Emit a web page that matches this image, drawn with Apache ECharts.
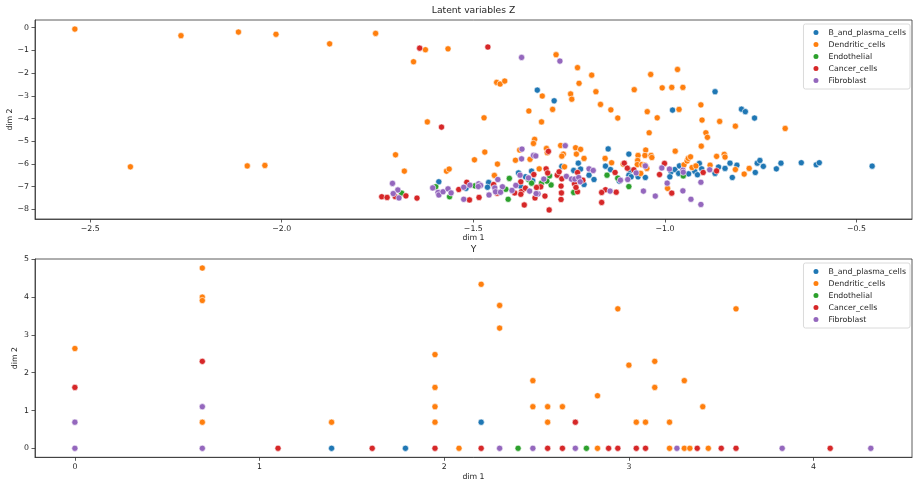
<!DOCTYPE html>
<html>
<head>
<meta charset="utf-8">
<script src="https://cdn.jsdelivr.net/npm/echarts@6/dist/echarts.min.js"></script>
<style>html,body{margin:0;padding:0;background:#fff}#c{width:913px;height:482px}</style>
</head>
<body>
<div id="c"></div>
<script>
const categories = ['B_and_plasma_cells','Dendritic_cells','Endothelial','Cancer_cells','Fibroblast'];
const colors = ['#1f77b4','#ff7f0e','#2ca02c','#d62728','#9467bd'];

const xTicksZ = [-2.5,-2.0,-1.5,-1.0,-0.5];
const yTicksZ = [-8,-7,-6,-5,-4,-3,-2,-1,0];
const xTicksY = [0,1,2,3,4];
const yTicksY = [0,1,2,3,4,5];

// Latent variables Z
const zB = [[-1.59,-6.79],[-1.519,-7.08],[-1.46,-6.82],[-1.463,-7.03],[-1.333,-2.75],[-1.289,-3.22],[-0.98,-3.63],[-0.869,-2.82],[-0.8,-3.59],[-0.79,-3.7],[-0.766,-3.98],[-1.226,-5.97],[-1.148,-5.34],[-1.155,-6.1],[-1.142,-6.25],[-1.185,-6.69],[-1.198,-6.5],[-1.269,-6.11],[-1.238,-6.29],[-1.22,-6.23],[-1.211,-6.91],[-1.345,-6.75],[-1.348,-6.32],[-1.382,-6.4],[-1.364,-6.57],[-1.377,-6.98],[-1.094,-5.57],[-1.09,-6.29],[-1.094,-6.5],[-1.088,-6.57],[-1.07,-6.57],[-1.051,-6.6],[-0.984,-6.35],[-0.987,-6.57],[-0.974,-6.25],[-0.962,-6.09],[-0.964,-6.42],[-0.938,-6.44],[-0.922,-6.33],[-0.915,-6.48],[-0.91,-5.98],[-0.904,-6.22],[-0.869,-6.42],[-0.86,-6.14],[-0.843,-6.2],[-0.83,-5.97],[-0.812,-6.06],[-0.824,-6.6],[-0.764,-6.38],[-0.759,-5.97],[-0.752,-5.85],[-0.743,-6.11],[-0.709,-6.22],[-0.697,-5.97],[-0.644,-5.95],[-0.605,-6.04],[-0.597,-5.95],[-0.459,-6.1],[-1.119,-6.76]];
const zDend = [[-2.54,-0.06],[-2.263,-0.35],[-2.113,-0.19],[-2.015,-0.29],[-1.875,-0.71],[-1.755,-0.25],[-1.625,-0.97],[-1.566,-0.93],[-1.656,-1.5],[-1.62,-4.15],[-2.395,-6.13],[-2.09,-6.09],[-2.044,-6.07],[-1.703,-5.6],[-1.68,-6.32],[-1.57,-6.32],[-1.563,-6.23],[-1.284,-1.19],[-1.228,-1.76],[-1.191,-2.09],[-1.224,-2.45],[-1.18,-2.82],[-1.439,-2.41],[-1.43,-2.48],[-1.418,-2.35],[-1.32,-3.01],[-1.246,-2.92],[-1.243,-3.15],[-1.293,-3.6],[-1.355,-3.67],[-1.322,-4.15],[-1.472,-3.97],[-1.168,-3.38],[-1.141,-3.62],[-1.123,-3.98],[-1.08,-2.73],[-1.037,-2.06],[-1.046,-3.7],[-1.02,-3.97],[-1.007,-2.65],[-0.982,-2.63],[-0.967,-1.84],[-0.953,-2.63],[-0.963,-3.6],[-0.906,-3.4],[-0.903,-4.07],[-0.857,-4.13],[-0.816,-4.34],[-0.686,-4.44],[-1.47,-5.48],[-1.497,-5.82],[-1.437,-6.01],[-1.445,-6.51],[-1.34,-4.92],[-1.343,-5.1],[-1.379,-5.39],[-1.39,-5.84],[-1.352,-5.8],[-1.328,-6.22],[-1.309,-5.32],[-1.307,-5.51],[-1.272,-5.19],[-1.265,-5.57],[-1.269,-5.66],[-1.233,-5.29],[-1.22,-5.36],[-1.231,-5.57],[-1.211,-5.76],[-1.156,-5.76],[-1.139,-5.95],[-1.109,-6.01],[-1.262,-6.13],[-1.041,-4.63],[-0.893,-4.63],[-0.889,-4.83],[-0.973,-5.44],[-0.905,-5.22],[-1.07,-5.63],[-1.071,-5.85],[-1.072,-6.03],[-1.05,-5.39],[-1.052,-5.63],[-1.036,-5.63],[-1.034,-5.72],[-1.047,-6.2],[-1.06,-6.03],[-1.053,-6.06],[-1.063,-6.42],[-0.95,-6.04],[-0.942,-5.87],[-0.939,-5.76],[-0.933,-5.69],[-0.929,-6.16],[-0.919,-6.09],[-0.993,-7.08],[-0.882,-6.06],[-0.865,-5.67],[-0.845,-5.58],[-0.843,-5.7],[-0.816,-6.25],[-0.793,-6.45],[-0.78,-6.2]];
const zEndo = [[-1.687,-7.29],[-1.598,-7.01],[-1.562,-7.45],[-1.496,-6.97],[-1.151,-6.5],[-1.123,-6.63],[-1.301,-6.53],[-1.297,-6.93],[-1.322,-6.85],[-1.308,-6.76],[-1.406,-6.64],[-1.356,-6.69],[-1.415,-7.12],[-1.409,-7.56],[-1.238,-7.26],[-1.094,-7.0],[-0.952,-6.53],[-1.348,-6.85]];
const zCancer = [[-1.64,-0.9],[-1.583,-4.38],[-1.739,-7.45],[-1.725,-7.48],[-1.704,-7.44],[-1.676,-7.41],[-1.647,-7.51],[-1.538,-7.13],[-1.462,-0.85],[-1.517,-6.81],[-1.51,-7.59],[-1.485,-7.48],[-1.447,-6.91],[-1.438,-7.29],[-1.304,-5.45],[-1.13,-6.38],[-1.228,-6.38],[-1.281,-6.5],[-1.276,-6.35],[-1.236,-6.88],[-1.214,-6.72],[-1.271,-6.98],[-1.27,-7.28],[-1.228,-7.23],[-1.232,-7.04],[-1.271,-7.57],[-1.302,-8.03],[-1.313,-7.42],[-1.339,-7.5],[-1.367,-7.81],[-1.342,-6.47],[-1.31,-6.22],[-1.306,-6.4],[-1.324,-7.01],[-1.335,-7.04],[-1.376,-6.79],[-1.392,-7.28],[-1.374,-7.22],[-1.376,-7.34],[-1.364,-7.07],[-1.269,-6.66],[-1.165,-7.7],[-1.155,-7.14],[-1.165,-7.26],[-1.127,-7.25],[-1.106,-5.97],[-1.098,-6.19],[-1.081,-6.26],[-1.014,-6.47],[-1.001,-5.98],[-0.982,-7.29],[-0.9,-6.38],[-0.865,-6.31]];
const zFibro = [[-1.711,-6.86],[-1.697,-7.15],[-1.709,-7.31],[-1.694,-7.5],[-1.606,-7.06],[-1.592,-7.26],[-1.59,-7.37],[-1.579,-7.23],[-1.566,-7.1],[-1.558,-7.28],[-1.374,-1.31],[-1.274,-1.47],[-1.525,-7.03],[-1.509,-6.94],[-1.486,-6.88],[-1.481,-6.95],[-1.487,-7.0],[-1.525,-7.56],[-1.459,-7.37],[-1.444,-7.06],[-1.442,-7.23],[-1.436,-6.69],[-1.373,-5.35],[-1.374,-5.78],[-1.343,-5.63],[-1.337,-5.65],[-1.26,-5.2],[-1.116,-6.72],[-1.198,-6.22],[-1.187,-6.29],[-1.257,-6.55],[-1.244,-6.67],[-1.235,-6.67],[-1.225,-6.6],[-1.221,-6.79],[-1.331,-7.32],[-1.336,-7.31],[-1.316,-6.67],[-1.378,-6.5],[-1.356,-6.62],[-1.389,-6.95],[-1.353,-7.2],[-1.424,-7.01],[-1.429,-7.25],[-1.143,-7.2],[-1.399,-7.17],[-1.051,-6.09],[-1.075,-6.4],[-1.097,-6.69],[-1.056,-7.2],[-1.025,-7.42],[-1.008,-6.18],[-0.988,-6.23],[-0.953,-6.28],[-0.952,-6.37],[-0.906,-6.81],[-0.932,-7.56],[-0.906,-7.79],[-0.953,-7.19],[-0.994,-6.85],[-0.883,-6.26]];

// Y
const yB = [[1.39,0],[1.79,0],[2.2,0.69]];
const yDend = [[0,2.64],[0.69,4.77],[0.69,4.0],[0.69,3.91],[0.69,0.69],[1.39,0.69],[1.95,2.48],[1.95,1.61],[1.95,1.1],[1.95,0.69],[2.08,0],[2.2,4.34],[2.3,3.78],[2.3,3.18],[2.48,1.79],[2.48,1.1],[2.56,1.1],[2.56,0.69],[2.64,1.1],[2.83,1.39],[2.83,0],[2.94,3.69],[3.0,2.2],[3.04,0.69],[3.09,0.69],[3.14,2.3],[3.14,1.61],[3.22,0.69],[3.22,0],[3.3,1.79],[3.3,0],[3.33,0],[3.4,1.1],[3.43,0],[3.58,3.69]];
const yEndo = [[2.4,0],[2.77,0]];
const yCancer = [[0,1.61],[0.69,2.3],[1.1,0],[1.61,0],[1.95,0],[2.2,0],[2.56,0],[2.64,0],[2.71,0.69],[2.89,0],[2.94,0],[3.04,0],[3.09,0],[3.37,0],[3.5,0],[3.58,0],[4.09,0]];
const yFibro = [[0,0.69],[0,0],[0.69,1.1],[0.69,0],[2.3,0],[2.48,0],[2.71,0],[3.26,0],[3.83,0],[4.31,0]];

const zData = [zB, zDend, zEndo, zCancer, zFibro];
const yData = [yB, yDend, yEndo, yCancer, yFibro];

const FONT = 'DejaVu Sans';
const TXT = '#262626';
function fmt(dec){ return v => (dec ? v.toFixed(dec) : String(Math.round(v))).replace('-', '\u2212'); }
function axis(gridIndex, min, max, ticks, name, nameGap, dec){
  return {
    type:'value', gridIndex, min, max, name, nameLocation:'middle', nameGap, nameMoveOverlap:false,
    nameTextStyle:{fontFamily:FONT, fontSize:7.8, color:TXT},
    axisLine:{show:true, onZero:false, lineStyle:{color:'#333', width:0.8}},
    axisTick:{show:true, inside:false, length:3.5, customValues:ticks, lineStyle:{color:'#333', width:0.8}},
    axisLabel:{customValues:ticks, margin:6, fontFamily:FONT, fontSize:7.8, color:TXT, formatter:fmt(dec)},
    splitLine:{show:false}
  };
}
const series = [];
[zData, yData].forEach((set, gi) => {
  set.forEach((d, i) => {
    series.push({
      type:'scatter', name:categories[i], xAxisIndex:gi, yAxisIndex:gi, data:d,
      symbol:'circle', symbolSize:6.2,
      itemStyle:{color:colors[i], borderColor:'#fff', borderWidth:0.6, opacity:1},
      emphasis:{disabled:true}
    });
  });
});
const legendBase = {
  orient:'vertical', right:3, data:categories, icon:'circle', itemWidth:7, itemHeight:7, itemGap:3,
  padding:[4,4,4,8], borderColor:'#d0d0d0', borderWidth:0.8, borderRadius:2, backgroundColor:'#fff',
  selectedMode:false,
  textStyle:{fontFamily:FONT, fontSize:7.8, color:TXT, lineHeight:9, padding:[0,0,0,4]}
};
const chart = echarts.init(document.getElementById('c'), null, {renderer:'canvas'});
chart.setOption({
  animation:false,
  backgroundColor:'#fff',
  title:[
    {text:'Latent variables Z', left:473.5, top:6, textAlign:'center', padding:0, textStyle:{fontFamily:FONT, fontSize:9.2, fontWeight:'normal', color:TXT}},
    {text:'Y', left:473.5, top:245, textAlign:'center', padding:0, textStyle:{fontFamily:FONT, fontSize:9.2, fontWeight:'normal', color:TXT}}
  ],
  grid:[
    {left:35, right:1, top:20, height:199, show:true, borderColor:'#333', borderWidth:0.8, containLabel:false, outerBoundsMode:'none'},
    {left:35, right:1, top:259, height:198.3, show:true, borderColor:'#333', borderWidth:0.8, containLabel:false, outerBoundsMode:'none'}
  ],
  xAxis:[
    axis(0, -2.644, -0.355, xTicksZ, 'dim 1', 15, 1),
    axis(1, -0.216, 4.533, xTicksY, 'dim 1', 15.5, 0)
  ],
  yAxis:[
    axis(0, -8.43, 0.34, yTicksZ, 'dim 2', 21, 0),
    axis(1, -0.2385, 5.0085, yTicksY, 'dim 2', 16, 0)
  ],
  legend:[
    Object.assign({}, legendBase, {top:24}),
    Object.assign({}, legendBase, {top:263})
  ],
  series
});
</script>
</body>
</html>
